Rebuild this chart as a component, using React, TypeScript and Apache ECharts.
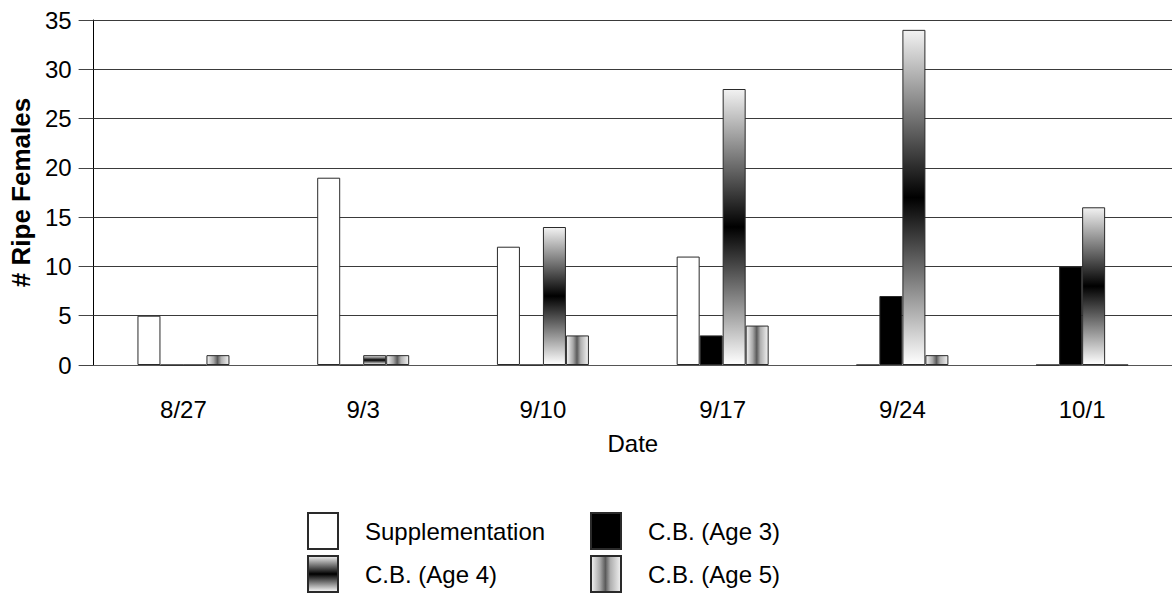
import React, { useEffect, useRef } from "react";
import * as echarts from "echarts";

const categories = ["8/27", "9/3", "9/10", "9/17", "9/24", "10/1"];
const seriesNames = ["Supplementation", "C.B. (Age 3)", "C.B. (Age 4)", "C.B. (Age 5)"];
const supplementation = [5, 19, 12, 11, 0, 0];
const cbAge3 = [0, 0, 0, 3, 7, 10];
const cbAge4 = [0, 1, 14, 28, 34, 16];
const cbAge5 = [1, 1, 3, 4, 1, 0];
const yTicks = { min: 0, max: 35, interval: 5 };

const FONT = "Liberation Sans, Arial, sans-serif";

export default function App() {
  const ref = useRef<HTMLDivElement>(null);
  useEffect(() => {
    if (!ref.current) return;
    const chart = echarts.init(ref.current, null, { renderer: "svg" });
    const border = { borderColor: "#2a2a2a", borderWidth: 1 };
    const age4Grad = new echarts.graphic.LinearGradient(0, 0, 0, 1, [
      { offset: 0, color: "#f2f2f2" },
      { offset: 0.5, color: "#000000" },
      { offset: 1, color: "#ffffff" },
    ]);
    const age5Grad = new echarts.graphic.LinearGradient(0, 0, 1, 0, [
      { offset: 0, color: "#f5f5f5" },
      { offset: 0.3, color: "#a8a8a8" },
      { offset: 0.48, color: "#5a5a5a" },
      { offset: 0.65, color: "#b0b0b0" },
      { offset: 1, color: "#f2f2f2" },
    ]);
    const mk = (name: string, data: number[], color: any) => ({
      name,
      type: "bar",
      data,
      barWidth: 23,
      barGap: "0%",
      itemStyle: { color, ...border },
      emphasis: { disabled: true },
    });
    const legendAt = (name: string, left: number, top: number) => ({
      orient: "horizontal",
      left,
      top,
      itemWidth: 30,
      itemHeight: 36,
      padding: 0,
      icon: "rect",
      selectedMode: false,
      data: [name],
      textStyle: { fontFamily: FONT, fontSize: 24, color: "#000", padding: [0, 0, 0, 22] },
    });
    chart.setOption({
      animation: false,
      backgroundColor: "#ffffff",
      grid: { left: 89, right: -11, top: 20, bottom: 228, containLabel: false },
      legend: [
        legendAt(seriesNames[0], 307, 512),
        legendAt(seriesNames[1], 590, 512),
        legendAt(seriesNames[2], 307, 555),
        legendAt(seriesNames[3], 590, 555),
      ],
      xAxis: [
        {
          type: "category",
          data: categories,
          axisLine: { lineStyle: { color: "#555555", width: 1 } },
          axisTick: { alignWithLabel: true, length: 17, lineStyle: { color: "#444444" } },
          axisLabel: { fontFamily: FONT, fontSize: 24, color: "#000", margin: 32 },
          name: "Date",
          nameLocation: "middle",
          nameGap: 66,
          nameTextStyle: { fontFamily: FONT, fontSize: 24, color: "#000" },
        },
        {
          type: "category",
          data: categories,
          position: "bottom",
          axisLine: { show: false },
          axisTick: { length: 2, lineStyle: { color: "#000", width: 2 } },
          axisLabel: { show: false },
        },
      ],
      yAxis: {
        type: "value",
        min: yTicks.min,
        max: yTicks.max,
        interval: yTicks.interval,
        axisLine: { show: true, lineStyle: { color: "#000", width: 1 } },
        axisTick: { show: true, length: 15, lineStyle: { color: "#444444" } },
        axisLabel: { fontFamily: FONT, fontSize: 24, color: "#000", margin: 22 },
        splitLine: { lineStyle: { color: "#3a3a3a", width: 1 } },
        name: "# Ripe Females",
        nameLocation: "middle",
        nameGap: 58,
        nameTextStyle: { fontFamily: FONT, fontSize: 26, fontWeight: "bold", color: "#000" },
      },
      series: [
        mk(seriesNames[0], supplementation, "#ffffff"),
        mk(seriesNames[1], cbAge3, "#000000"),
        mk(seriesNames[2], cbAge4, age4Grad),
        mk(seriesNames[3], cbAge5, age5Grad),
      ],
    });
    return () => chart.dispose();
  }, []);
  return (
    <div
      ref={ref}
      style={{ position: "absolute", left: 0, top: 0, width: 1172, height: 593 }}
    />
  );
}
